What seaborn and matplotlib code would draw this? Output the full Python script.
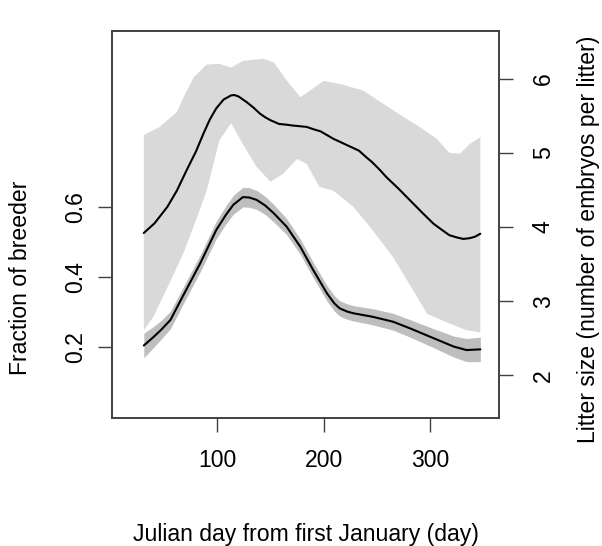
import matplotlib
matplotlib.use("Agg")
import matplotlib.pyplot as plt
import seaborn as sns

# Fraction of breeding females through the year (left axis)
frac_days = [31, 40, 47, 56, 68, 84, 99, 108, 115, 124, 130, 137, 145, 153,
             165, 178, 190, 203, 210, 215, 222, 228, 246, 265, 281, 303, 322,
             334, 347]
fraction = [0.205, 0.229, 0.249, 0.278, 0.348, 0.440, 0.535, 0.578, 0.607,
            0.629, 0.628, 0.621, 0.605, 0.583, 0.545, 0.487, 0.421, 0.354,
            0.325, 0.311, 0.302, 0.297, 0.287, 0.273, 0.254, 0.226, 0.202,
            0.192, 0.194]
frac_lo = [0.170, 0.199, 0.222, 0.253, 0.324, 0.416, 0.510, 0.552, 0.580,
           0.601, 0.600, 0.594, 0.579, 0.558, 0.522, 0.465, 0.399, 0.332,
           0.303, 0.289, 0.280, 0.275, 0.264, 0.249, 0.229, 0.199, 0.172,
           0.159, 0.159]
frac_hi = [0.240, 0.259, 0.276, 0.303, 0.372, 0.464, 0.560, 0.604, 0.634,
           0.657, 0.656, 0.648, 0.631, 0.608, 0.568, 0.509, 0.443, 0.376,
           0.347, 0.333, 0.324, 0.319, 0.310, 0.297, 0.279, 0.253, 0.232,
           0.225, 0.229]

# Litter size (right axis)
litter_days = [31, 41, 53, 62, 71, 80, 87, 93, 99, 106, 113, 116, 120, 128,
               134, 140, 145, 150, 158, 165, 170, 184, 190, 197, 209, 221,
               233, 240, 245, 252, 259, 270, 281, 292, 303, 314, 318, 325,
               331, 337, 342, 347]
litter = [3.92, 4.05, 4.27, 4.49, 4.76, 5.02, 5.26, 5.45, 5.60, 5.72, 5.775,
          5.78, 5.76, 5.68, 5.61, 5.53, 5.48, 5.44, 5.39, 5.38, 5.37, 5.35,
          5.32, 5.29, 5.19, 5.11, 5.03, 4.94, 4.88, 4.78, 4.67, 4.52, 4.36,
          4.20, 4.045, 3.93, 3.89, 3.86, 3.84, 3.85, 3.87, 3.91]

litter_up_days = [31, 46, 62, 70, 78, 90, 102, 113, 124, 143, 153, 165, 178,
                  187, 200, 215, 237, 256, 272, 290, 306, 318, 328, 337, 347]
litter_up = [5.24, 5.35, 5.55, 5.80, 6.02, 6.19, 6.20, 6.15, 6.24, 6.27, 6.22,
             5.98, 5.75, 5.84, 5.97, 5.93, 5.84, 5.66, 5.51, 5.35, 5.19, 5.00,
             4.99, 5.12, 5.21]
litter_low_days = [31, 40, 52, 68, 81, 90, 102, 113, 124, 137, 150, 162, 175,
                   184, 196, 209, 228, 246, 265, 284, 297, 318, 334, 347]
litter_low = [2.61, 2.79, 3.15, 3.64, 4.13, 4.49, 5.17, 5.40, 5.12, 4.81,
              4.61, 4.72, 4.92, 4.85, 4.54, 4.49, 4.27, 3.955, 3.595, 3.146,
              2.83, 2.70, 2.61, 2.58]

x_ticks = [100, 200, 300]
frac_ticks = [0.2, 0.4, 0.6]
litter_ticks = [2, 3, 4, 5, 6]

sns.set_style("white")
plt.rcParams["font.family"] = ["Liberation Sans", "DejaVu Sans"]
plt.rcParams["text.color"] = "black"
FS = 16.6
SPINE = "#404040"

fig = plt.figure(figsize=(6.02, 5.46), dpi=100)
ax = fig.add_axes([0.18555, 0.23388, 0.64385, 0.70934])
ax2 = ax.twinx()

# litter size band and curve (drawn underneath)
ax2.fill(litter_up_days + litter_low_days[::-1],
         litter_up + litter_low[::-1],
         color="#D9D9D9", lw=0, zorder=1)
sns.lineplot(x=litter_days, y=litter, ax=ax2, color="black", lw=1.5,
             zorder=3, estimator=None, sort=False)

# fraction of breeders band and curve (on top)
ax.set_zorder(ax2.get_zorder() + 1)
ax.patch.set_visible(False)
ax.fill_between(frac_days, frac_lo, frac_hi, color="#BEBEBE", lw=0, zorder=1)
sns.lineplot(x=frac_days, y=fraction, ax=ax, color="black", lw=1.5,
             zorder=3, estimator=None, sort=False)

ax.set_xlim(0.85, 364.8)
ax.set_ylim(-0.003, 1.1037)
ax2.set_ylim(1.422, 6.643)

ax.set_xticks(x_ticks)
ax.set_xticklabels([str(t) for t in x_ticks])
ax.set_yticks(frac_ticks)
ax.set_yticklabels([f"{t:.1f}" for t in frac_ticks], rotation=90, va="center")
ax2.set_yticks(litter_ticks)
ax2.set_yticklabels([str(t) for t in litter_ticks], rotation=90, va="center")

ax.tick_params(axis="x", direction="out", length=10, width=1, color=SPINE,
               labelcolor="black", labelsize=FS, pad=12, bottom=True)
ax.tick_params(axis="y", direction="out", length=10, width=1, color=SPINE,
               labelcolor="black", labelsize=FS, pad=7.5, left=True)
ax2.tick_params(axis="y", direction="out", length=10, width=1, color=SPINE,
                labelcolor="black", labelsize=FS, pad=13.5, right=True)

for a in (ax, ax2):
    for s in a.spines.values():
        s.set_visible(True)
        s.set_color(SPINE)
        s.set_linewidth(1.2)
ax.set_xlabel("")
ax.set_ylabel("")
ax2.set_ylabel("")

fig.text(305.5 / 602, (546 - 540.5) / 546,
         "Julian day from first January (day)",
         ha="center", va="baseline", fontsize=FS)
fig.text(20.4 / 602, 1 - 277.5 / 546, "Fraction of breeder",
         rotation=90, ha="center", va="center", fontsize=FS)
fig.text(589 / 602, 1 - 239 / 546,
         "Litter size (number of embryos per litter)",
         rotation=90, ha="center", va="center", fontsize=FS)

fig.savefig("out.png", dpi=100, facecolor="white")
